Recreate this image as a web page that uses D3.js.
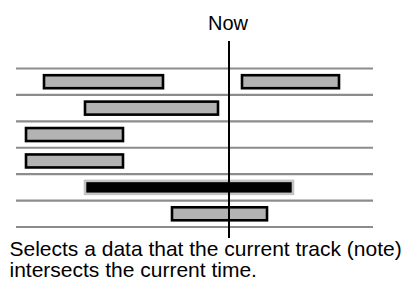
<!DOCTYPE html>
<html>
<head>
<meta charset="utf-8">
<script src="https://cdn.jsdelivr.net/npm/d3@7"></script>
<style>
  body { margin: 0; background: #fff; }
  text { font-family: "Liberation Sans", Arial, Helvetica, sans-serif; fill: #000; }
</style>
</head>
<body>
<svg id="chart" width="406" height="282"></svg>
<script>
// tracks (lanes) top to bottom
const tracks = [0, 1, 2, 3, 4, 5]
// notes: track index, start, end (time units)
const noteTrack = [0, 0, 1, 2, 3, 4, 5]
const noteStart = [28, 226, 69, 10, 10, 69, 156]
const noteEnd = [147, 323, 202, 107, 107, 277, 251]
const nowTime = 213
const nowLabel = "Now"
const caption = ["Selects a data that the current track (note)", "intersects the current time."]

const svg = d3.select("#chart")

const x = d3.scaleLinear().domain([0, 357]).range([16, 373])
const y = d3.scaleLinear().domain([0, tracks.length]).range([68.5, 227])
const barH = 13

const notes = noteTrack.map((t, i) => ({ track: t, start: noteStart[i], end: noteEnd[i] }))
const hit = d => d.start <= nowTime && d.end >= nowTime && d.track === 4

// track separators
svg.selectAll("line.track")
  .data(d3.range(tracks.length + 1))
  .join("line")
    .attr("class", "track")
    .attr("x1", x(0)).attr("x2", x(357))
    .attr("y1", d => y(d)).attr("y2", d => y(d))
    .attr("stroke", "#8c8c8c")
    .attr("stroke-width", 2.2)

// notes
svg.selectAll("rect.note")
  .data(notes)
  .join("rect")
    .attr("class", "note")
    .attr("x", d => x(d.start))
    .attr("width", d => x(d.end) - x(d.start))
    .attr("y", d => y(d.track + 0.5) - barH / 2)
    .attr("height", barH)
    .attr("fill", d => hit(d) ? "#000" : "#b3b3b3")
    .attr("stroke", d => hit(d) ? "#c4c4c4" : "#000")
    .attr("stroke-width", 2.6)

// now line
svg.append("line")
  .attr("x1", x(nowTime)).attr("x2", x(nowTime))
  .attr("y1", 41).attr("y2", 238)
  .attr("stroke", "#000")
  .attr("stroke-width", 2)

svg.append("text")
  .attr("x", x(nowTime) - 1)
  .attr("y", 30)
  .attr("text-anchor", "middle")
  .attr("font-size", 20)
  .text(nowLabel)

svg.selectAll("text.caption")
  .data(caption)
  .join("text")
    .attr("class", "caption")
    .attr("x", 9.5)
    .attr("y", (d, i) => 256 + i * 21)
    .attr("font-size", 21)
    .text(d => d)
</script>
</body>
</html>
